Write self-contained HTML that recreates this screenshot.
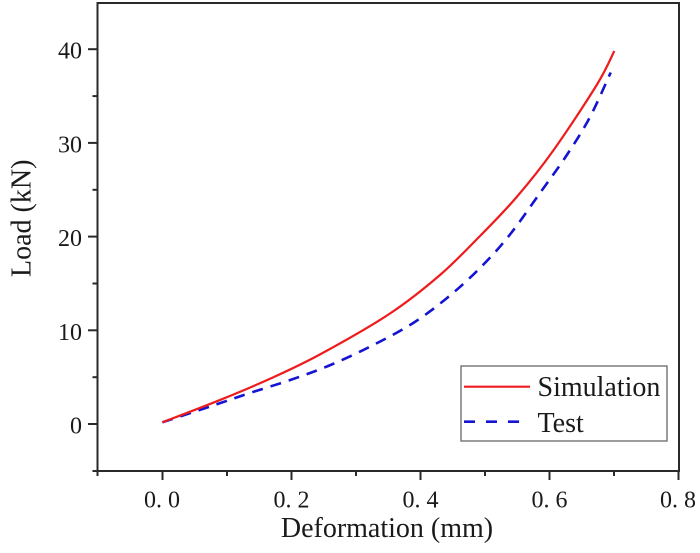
<!DOCTYPE html>
<html>
<head>
<meta charset="utf-8">
<style>
  html, body { margin:0; padding:0; background:#ffffff; }
  svg { display:block; }
  text { font-family: "Liberation Serif", "DejaVu Serif", serif; fill:#1a1a1a; }
</style>
</head>
<body>
<svg width="700" height="553" viewBox="0 0 700 553" xmlns="http://www.w3.org/2000/svg">
  <rect x="0" y="0" width="700" height="553" fill="#ffffff"/>

  <!-- plot frame -->
  <rect x="97.5" y="3" width="581.5" height="468" fill="none" stroke="#2a2a2a" stroke-width="2"/>

  <!-- Y ticks -->
  <g stroke="#2a2a2a" stroke-width="2">
    <line x1="88" y1="424" x2="97.5" y2="424"/>
    <line x1="88" y1="330.3" x2="97.5" y2="330.3"/>
    <line x1="88" y1="236.6" x2="97.5" y2="236.6"/>
    <line x1="88" y1="142.9" x2="97.5" y2="142.9"/>
    <line x1="88" y1="49.2" x2="97.5" y2="49.2"/>
    <line x1="92.5" y1="471" x2="97.5" y2="471"/>
    <line x1="92.5" y1="377.2" x2="97.5" y2="377.2"/>
    <line x1="92.5" y1="283.5" x2="97.5" y2="283.5"/>
    <line x1="92.5" y1="189.8" x2="97.5" y2="189.8"/>
    <line x1="92.5" y1="96.1" x2="97.5" y2="96.1"/>
  </g>

  <!-- X ticks -->
  <g stroke="#2a2a2a" stroke-width="2">
    <line x1="162.5" y1="471" x2="162.5" y2="480"/>
    <line x1="291.5" y1="471" x2="291.5" y2="480"/>
    <line x1="420.5" y1="471" x2="420.5" y2="480"/>
    <line x1="549.5" y1="471" x2="549.5" y2="480"/>
    <line x1="678.5" y1="471" x2="678.5" y2="480"/>
    <line x1="97.5" y1="471" x2="97.5" y2="476"/>
    <line x1="227" y1="471" x2="227" y2="476"/>
    <line x1="356" y1="471" x2="356" y2="476"/>
    <line x1="485" y1="471" x2="485" y2="476"/>
    <line x1="614" y1="471" x2="614" y2="476"/>
  </g>

  <!-- Y tick labels -->
  <g font-size="24" text-anchor="end">
    <text x="82" y="433.5">0</text>
    <text x="82" y="339.8">10</text>
    <text x="82" y="246.1">20</text>
    <text x="82" y="152.4">30</text>
    <text x="82" y="58.7">40</text>
  </g>

  <!-- X tick labels -->
  <g font-size="24" text-anchor="middle">
    <text x="162" y="507.5">0. 0</text>
    <text x="291.5" y="507.5">0. 2</text>
    <text x="420.5" y="507.5">0. 4</text>
    <text x="549.5" y="507.5">0. 6</text>
    <text x="678" y="507.5">0. 8</text>
  </g>

  <!-- Axis titles -->
  <text x="387" y="537" font-size="28" text-anchor="middle">Deformation (mm)</text>
  <text transform="translate(30.5,218.3) rotate(-90)" font-size="28" text-anchor="middle">Load (kN)</text>

  <!-- Test (blue dashed) -->
  <path fill="none" stroke="#1414d2" stroke-width="2.6" stroke-dasharray="11 8"
    d="M162.3,422.3 C170.5,419.6 197.4,410.8 211.7,406
       C226.0,401.2 235.0,397.9 248.3,393.5
       C261.6,389.1 277.8,384.3 291.7,379.5
       C305.6,374.7 318.1,370.25 331.7,364.5
       C345.3,358.75 359.6,352 373.3,345
       C387.0,338 401.2,330.75 414,322.5
       C426.8,314.25 438.6,305 450,295.5
       C461.4,286 472.5,275.7 482.5,265.5
       C492.5,255.3 500.4,246.6 510,234.5
       C519.6,222.4 530.4,206.4 540,193
       C549.6,179.6 559.2,166.7 567.5,154
       C575.8,141.3 582.8,130.6 590,117
       C597.2,103.4 607.25,79.9 610.7,72.5"/>

  <!-- Simulation (red solid) -->
  <path fill="none" stroke="#ee1c1c" stroke-width="2.2"
    d="M162.3,422.3 C172.2,418.5 203.5,406.7 221.7,399.3
       C239.9,391.9 255.0,385.6 271.7,378
       C288.4,370.4 302.0,364.3 321.7,353.5
       C341.4,342.75 370.3,326.6 390,313.5
       C409.7,300.4 425,287.9 440,275
       C455,262.1 467.2,249 480,236
       C492.8,223 504.5,211.25 516.7,197
       C528.9,182.75 540,169.2 553.3,150.5
       C566.6,131.8 586.5,101.6 596.7,85
       C606.9,68.4 611.4,56.7 614.3,51"/>

  <!-- Legend -->
  <rect x="461" y="366" width="206" height="75" fill="#ffffff" stroke="#666666" stroke-width="1.3"/>
  <line x1="464" y1="386.7" x2="530" y2="386.7" stroke="#ee1c1c" stroke-width="2.2"/>
  <line x1="464" y1="421.7" x2="530" y2="421.7" stroke="#1414d2" stroke-width="2.6" stroke-dasharray="11 11"/>
  <text x="537.5" y="396" font-size="28">Simulation</text>
  <text x="537.5" y="432" font-size="28">Test</text>
</svg>
</body>
</html>
